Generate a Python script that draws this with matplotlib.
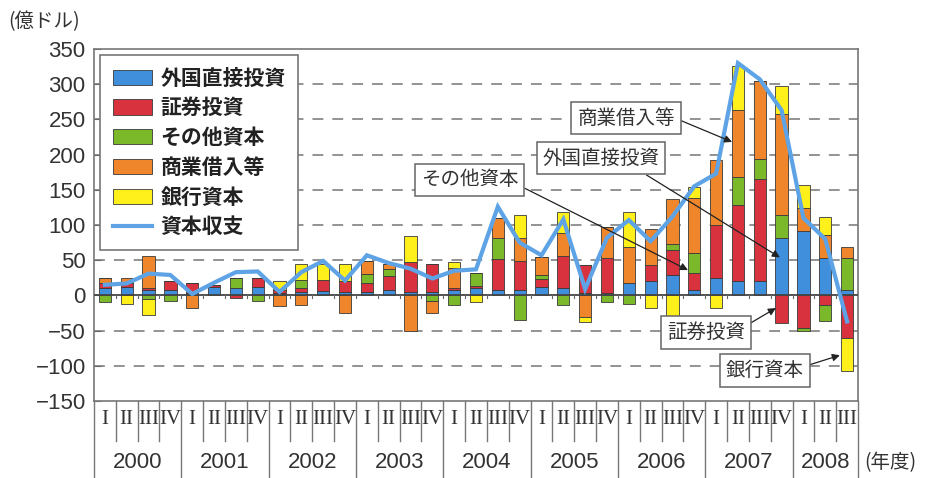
import numpy as np
import matplotlib
matplotlib.use("Agg")
import matplotlib.pyplot as plt
from matplotlib.patches import Patch
from matplotlib.lines import Line2D

plt.rcParams['font.family'] = ['Noto Sans CJK JP', 'DejaVu Sans']

# quarterly data, 2000 Q1 .. 2008 Q3 (億ドル)
years = ['2000', '2001', '2002', '2003', '2004', '2005', '2006', '2007', '2008']
quarters = ['I', 'II', 'III', 'IV']
n_quarters = [4, 4, 4, 4, 4, 4, 4, 4, 3]

fdi = [10, 12, 8, 8, 3, 12, 10, 12, 3, 5, 6, 5, 5, 8, 5, 5, 8, 10,
       8, 8, 12, 10, 3, 3, 17, 20, 29, 8, 25, 20, 20, 81, 91, 53, 8]
securities = [8, 5, 3, 13, 15, 3, -3, 13, 4, 5, 16, 15, 13, 19, 43, 40, 3, 3,
              43, 41, 12, 46, 40, 50, 0, 23, 35, 24, 75, 108, 146, -39, -46, -13, -60]
other = [-10, 0, -5, -8, 0, 0, 15, -8, 0, 12, 0, 0, 12, 10, 0, -8, -14, 19,
         31, -35, 5, -14, 0, -10, -12, 0, 9, 28, 0, 40, 28, 33, -5, -24, 45]
commercial = [7, 8, 45, 0, -18, 0, 0, 0, -15, -14, 0, -25, 19, 7, -50, -17, 28, 0,
              28, 33, 25, 33, -30, 44, 52, 52, 64, 78, 92, 95, 111, 144, 33, 33, 16]
banking = [0, -12, -23, 0, 0, 0, 0, 0, 13, 22, 23, 24, 0, 0, 37, 0, 8, -10,
           0, 32, 0, 30, -8, 0, 50, -18, -32, 16, -18, 63, 0, 40, 33, 26, -48]
capital_account = [15, 17, 31, 29, 2, 18, 33, 34, 5, 33, 49, 21, 57, 46, 38, 24, 35, 37,
                   126, 75, 57, 108, 9, 82, 107, 77, 112, 155, 173, 330, 307, 263, 110, 80, -37]

series_names = ['外国直接投資', '証券投資', 'その他資本', '商業借入等', '銀行資本']
series_colors = ['#3f8fdc', '#d8323f', '#7cb92a', '#f0862b', '#fff01c']
line_name = '資本収支'
line_color = '#5ea3e6'

W, H = 925, 478
fig = plt.figure(figsize=(W / 100, H / 100), dpi=100)
ax_l, ax_r, ax_t, ax_b = 94, 858, 49, 401
ax = fig.add_axes([ax_l / W, 1 - ax_b / H, (ax_r - ax_l) / W, (ax_b - ax_t) / H])

x = np.arange(len(fdi))
pos_base = np.zeros(len(x))
neg_base = np.zeros(len(x))
for vals, col in zip([fdi, securities, other, commercial, banking], series_colors):
    v = np.array(vals, dtype=float)
    bottoms = np.where(v >= 0, pos_base, neg_base)
    ax.bar(x, v, 0.56, bottom=bottoms, color=col, edgecolor='#3a3a3a',
           linewidth=0.6, zorder=3)
    pos_base += np.where(v > 0, v, 0)
    neg_base += np.where(v < 0, v, 0)

ax.plot(x, capital_account, color=line_color, lw=3, zorder=5,
        solid_joinstyle='miter')

ax.set_xlim(-0.5, len(x) - 0.5)
ax.set_ylim(-150, 350)
ax.set_yticks(np.arange(-150, 351, 50))
ax.set_yticklabels([f'{t:d}'.replace('-', '\u2212') for t in range(-150, 351, 50)],
                   family='Liberation Sans', fontsize=16, color='#333333')
ax.tick_params(axis='y', direction='in', length=5, color='#666666', pad=6)
ax.set_xticks([])
for s in ax.spines.values():
    s.set_color('#777777')
    s.set_linewidth(1.2)

for g in [-100, -50, 50, 100, 150, 200, 250, 300]:
    ax.axhline(g, color='#8a8a8a', lw=1.3, ls=(0, (6, 5)), zorder=1)
ax.axhline(0, color='#444444', lw=1.3, zorder=4)
# small ticks on the zero line between quarters
for b in np.arange(0.5, len(x) - 1, 1.0):
    ax.plot([b, b], [0, -4], color='#666666', lw=0.8, zorder=4)

# category table under the plot
tr = ax.get_xaxis_transform()
ax_h = ax_b - ax_t
q_bottom = -40 / ax_h
y_bottom = -(H - ax_b) / ax_h
year_edges = np.concatenate([[0], np.cumsum(n_quarters)]) - 0.5
for b in np.arange(0.5, len(x) - 1, 1.0):
    if b not in year_edges:
        ax.plot([b, b], [0, q_bottom], transform=tr, color='#777777', lw=1,
                clip_on=False)
for b in year_edges:
    ax.plot([b, b], [0, y_bottom], transform=tr, color='#777777', lw=1,
            clip_on=False)
i = 0
for yr, nq in zip(years, n_quarters):
    for q in range(nq):
        ax.text(i + q, -18 / ax_h, quarters[q], transform=tr, ha='center',
                va='center', family='Liberation Serif', fontsize=15, color='#333333')
    ax.text(i + (nq - 1) / 2, -62 / ax_h, yr, transform=tr, ha='center',
            va='center', family='Liberation Sans', fontsize=16, color='#333333')
    i += nq
fig.text(864 / W, 1 - 463 / H, '(年度)', ha='left', va='center', fontsize=14,
         color='#333333')
fig.text(8 / W, 1 - 22 / H, '(億ドル)', ha='left', va='center', fontsize=14,
         color='#333333')

# legend
handles = [Patch(facecolor=c, edgecolor='#3a3a3a', linewidth=0.6) for c in series_colors]
handles.append(Line2D([], [], color=line_color, lw=3))
leg = ax.legend(handles, series_names + [line_name], loc='upper left',
                bbox_to_anchor=(6 / (ax_r - ax_l), 1 - 6 / ax_h), borderaxespad=0,
                fancybox=False, edgecolor='#777777', framealpha=1,
                prop={'size': 15, 'weight': 'bold'}, labelspacing=0.42,
                handlelength=1.9, handleheight=0.75, handletextpad=0.4,
                borderpad=0.6)
leg.get_frame().set_linewidth(1.2)
leg.set_zorder(6)
for t in leg.get_texts():
    t.set_color('#222222')

# callout labels
callouts = [
    ('商業借入等', (23.87, 252), (28.73, 218), (1.0, 0.5)),
    ('外国直接投資', (22.73, 195), (30.92, 54), (0.8, 0.0)),
    ('その他資本', (16.72, 164), (26.71, 36), (1.0, 0.25)),
    ('証券投資', (27.53, -53), (30.74, -18), (1.0, 0.8)),
    ('銀行資本', (30.24, -107), (33.67, -85), (1.0, 0.7)),
]
for label, txt_xy, tgt_xy, rp in callouts:
    ax.annotate(label, xy=tgt_xy, xytext=txt_xy, ha='center', va='center',
                fontsize=14, color='#333333', zorder=7,
                bbox=dict(boxstyle='square,pad=0.3', fc='white', ec='#666666', lw=1.1),
                arrowprops=dict(arrowstyle='-|>', color='#222222', lw=0.9,
                                shrinkA=0, shrinkB=0, mutation_scale=11, relpos=rp))

fig.savefig('out.png', dpi=100)
